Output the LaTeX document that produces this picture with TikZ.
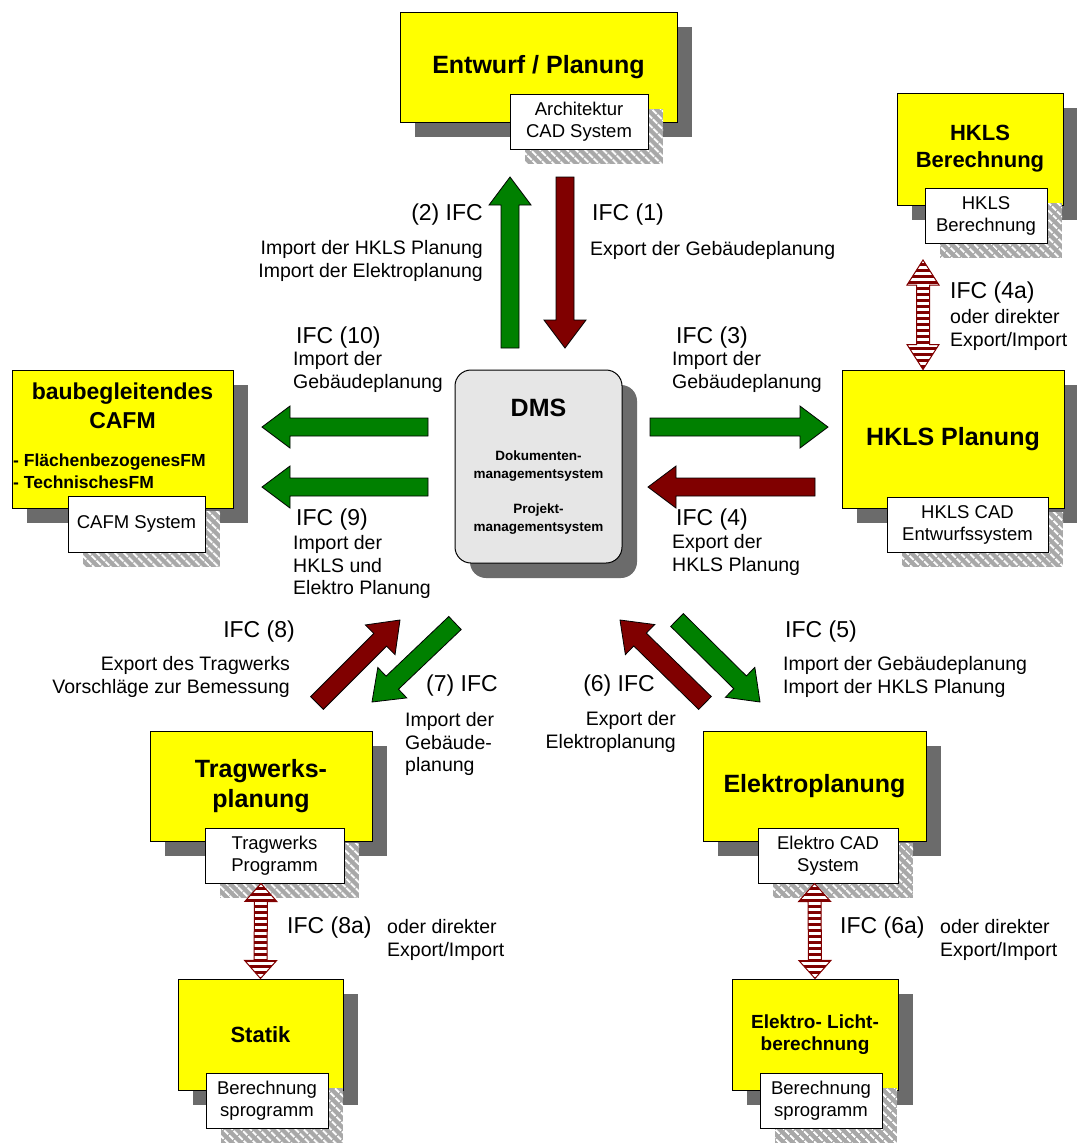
\documentclass[tikz,border=0pt]{standalone}
\usepackage{fontspec}
\setmainfont{Liberation Sans}
\usetikzlibrary{calc,shadows,patterns.meta}

\definecolor{boxyellow}{HTML}{FFFF00}
\definecolor{shadowgray}{HTML}{6B6B6B}
\definecolor{hatchgray}{HTML}{A8A8A8}
\definecolor{dmsgray}{HTML}{E6E6E6}
\definecolor{ifcgreen}{HTML}{008000}
\definecolor{ifcred}{HTML}{800000}

\tikzset{
   darkshadow/.style={drop shadow={shadow xshift=15pt,shadow yshift=-15pt,opacity=1,fill=shadowgray}},
   hatchshadow/.style={drop shadow={shadow xshift=15pt,shadow yshift=-15pt,opacity=1,fill=hatchgray},
      drop shadow={shadow xshift=15pt,shadow yshift=-15pt,opacity=1,
         pattern={Lines[angle=-45,distance=6.5pt,line width=2pt]},pattern color=white}},
   unitbox/.style={draw,line width=1pt,fill=boxyellow,darkshadow,align=center,inner sep=2pt,
      font=\bfseries\fontsize{25}{30}\selectfont},
   sysbox/.style={draw,line width=1pt,fill=white,hatchshadow,align=center,inner sep=2pt,
      font=\fontsize{18.5}{22}\selectfont},
   dmsbox/.style={draw,line width=1pt,fill=dmsgray,rounded corners=16pt,darkshadow},
   dmsnote/.style={inner sep=0pt,align=center,font=\bfseries\fontsize{13.5}{18}\selectfont},
   ifc/.style={inner sep=0pt,font=\fontsize{23}{26}\selectfont},
   note/.style={inner sep=0pt,font=\fontsize{19.5}{22.5}\selectfont},
   greenarrow/.style={draw=black,line width=0.8pt,fill=ifcgreen},
   redarrow/.style={draw=black,line width=0.8pt,fill=ifcred},
   stripearrow/.style={draw=ifcred,line width=1pt,preaction={fill=ifcred},
      pattern={Lines[angle=0,distance=6pt,line width=3pt]},pattern color=white}
}

% block arrow: style, tail, tip
\newcommand{\ifcarrow}[3]{%
   \coordinate (head) at ($(#3)!28pt!(#2)$);
   \draw[#1] ($(#2)!9pt!90:(#3)$) -- ($(head)!9pt!90:(#3)$) -- ($(head)!21pt!90:(#3)$) -- (#3)
      -- ($(head)!21pt!-90:(#3)$) -- ($(head)!9pt!-90:(#3)$) -- ($(#2)!9pt!-90:(#3)$) -- cycle;
}
% striped double arrow: head length, one end, other end
\newcommand{\ifcboth}[3]{%
   \coordinate (heada) at ($(#2)!#1!(#3)$);
   \coordinate (headb) at ($(#3)!#1!(#2)$);
   \draw[stripearrow] (#2) -- ($(heada)!16pt!90:(#3)$) -- ($(heada)!6.5pt!90:(#3)$)
      -- ($(headb)!6.5pt!-90:(#2)$) -- ($(headb)!16pt!-90:(#2)$) -- (#3)
      -- ($(headb)!16pt!90:(#2)$) -- ($(headb)!6.5pt!90:(#2)$)
      -- ($(heada)!6.5pt!-90:(#3)$) -- ($(heada)!16pt!-90:(#3)$) -- cycle;
}

\begin{document}
\begin{tikzpicture}[x=1pt,y=-1pt]
   \useasboundingbox (0,0) rectangle (1077,1144);

   % Bausteine
   \node[unitbox,minimum width=277,minimum height=110] (entwurf) at (538.5,67) {Entwurf / Planung};
   \node[sysbox,minimum width=138,minimum height=55] (entwurfsys) at (579,121.5) {Architektur\\CAD System};

   \node[unitbox,minimum width=166,minimum height=112,font=\bfseries\fontsize{22}{27}\selectfont] (hklsber) at (980,149) {HKLS\\Berechnung};
   \node[sysbox,minimum width=122,minimum height=55] (hklsbersys) at (986,215.5) {HKLS\\Berechnung};

   \node[unitbox,minimum width=222,minimum height=138] (hkls) at (953,439) {HKLS Planung};
   \node[sysbox,minimum width=161,minimum height=55] (hklssys) at (967.5,524.5) {HKLS CAD\\Entwurfssystem};

   \node[unitbox,minimum width=221,minimum height=138] (cafm) at (122.5,439) {};
   \node[inner sep=0pt,align=center,font=\bfseries\fontsize{23}{29}\selectfont] (cafmtitle) at (122.5,405.5) {baubegleitendes\\CAFM};
   \node[inner sep=0pt,anchor=west,align=left,font=\bfseries\fontsize{17.5}{22}\selectfont] (cafmlist) at (13,471) {- FlächenbezogenesFM\\- TechnischesFM};
   \node[sysbox,minimum width=137,minimum height=56] (cafmsys) at (136.5,524) {CAFM System};

   \node[dmsbox,minimum width=167,minimum height=193] (dms) at (538.5,466.5) {};
   \node[inner sep=0pt,font=\bfseries\fontsize{25}{30}\selectfont] (dmstitle) at (538.5,408) {DMS};
   \node[dmsnote] (dmsdok) at (538.5,466) {Dokumenten-\\managementsystem};
   \node[dmsnote] (dmsprj) at (538.5,519) {Projekt-\\managementsystem};

   \node[unitbox,minimum width=222,minimum height=110] (trag) at (261,786) {Tragwerks-\\planung};
   \node[sysbox,minimum width=139,minimum height=55] (tragsys) at (274.5,855.5) {Tragwerks\\Programm};

   \node[unitbox,minimum width=223,minimum height=110] (elektro) at (814.5,786) {Elektroplanung};
   \node[sysbox,minimum width=140,minimum height=55] (elektrosys) at (828,855.5) {Elektro CAD\\System};

   \node[unitbox,minimum width=165,minimum height=111,font=\bfseries\fontsize{22}{27}\selectfont] (statik) at (260.5,1034.5) {Statik};
   \node[sysbox,minimum width=122,minimum height=55] (statiksys) at (267,1100.5) {Berechnung\\sprogramm};

   \node[unitbox,minimum width=166,minimum height=111,font=\bfseries\fontsize{19}{22}\selectfont] (licht) at (815,1034.5) {Elektro- Licht-\\berechnung};
   \node[sysbox,minimum width=122,minimum height=55] (lichtsys) at (821,1100.5) {Berechnung\\sprogramm};

   % IFC Pfeile
   \coordinate (ifc2a) at (510,348);  \coordinate (ifc2b) at (510,177);
   \coordinate (ifc1a) at (565,177);  \coordinate (ifc1b) at (565,348);
   \coordinate (ifc3a) at (650,427);  \coordinate (ifc3b) at (828,427);
   \coordinate (ifc4a) at (815,487);  \coordinate (ifc4b) at (648,487);
   \coordinate (ifc10a) at (428,427); \coordinate (ifc10b) at (262,427);
   \coordinate (ifc9a) at (428,487);  \coordinate (ifc9b) at (262,487);
   \coordinate (ifc8a) at (317,703);  \coordinate (ifc8b) at (400,620);
   \coordinate (ifc7a) at (455,623);  \coordinate (ifc7b) at (372,702);
   \coordinate (ifc6a) at (705,703);  \coordinate (ifc6b) at (620,620);
   \coordinate (ifc5a) at (677,620);  \coordinate (ifc5b) at (760,702);

   \ifcarrow{greenarrow}{ifc2a}{ifc2b}
   \ifcarrow{redarrow}{ifc1a}{ifc1b}
   \ifcarrow{greenarrow}{ifc3a}{ifc3b}
   \ifcarrow{redarrow}{ifc4a}{ifc4b}
   \ifcarrow{greenarrow}{ifc10a}{ifc10b}
   \ifcarrow{greenarrow}{ifc9a}{ifc9b}
   \ifcarrow{redarrow}{ifc8a}{ifc8b}
   \ifcarrow{greenarrow}{ifc7a}{ifc7b}
   \ifcarrow{redarrow}{ifc6a}{ifc6b}
   \ifcarrow{greenarrow}{ifc5a}{ifc5b}

   % direkter Austausch
   \coordinate (hklsber in) at (923,260);
   \ifcboth{25pt}{hklsber in}{hkls.north -| hklsber in}
   \ifcboth{18pt}{tragsys.south -| trag}{statik.north}
   \ifcboth{18pt}{elektrosys.south -| elektro}{licht.north}

   % Beschriftung
   \node[ifc,anchor=east] (l2) at (483,215) {(2) IFC};
   \node[note,anchor=east,align=right] (l2d) at (483,261) {Import der HKLS Planung\\Import der Elektroplanung};
   \node[ifc,anchor=west] (l1) at (592,215) {IFC (1)};
   \node[note,anchor=west] (l1d) at (590,250) {Export der Gebäudeplanung};

   \node[ifc,anchor=west] (l10) at (296,338) {IFC (10)};
   \node[note,anchor=west,align=left] (l10d) at (293,372) {Import der\\Gebäudeplanung};
   \node[ifc,anchor=west] (l3) at (676,338) {IFC (3)};
   \node[note,anchor=west,align=left] (l3d) at (672,372) {Import der\\Gebäudeplanung};

   \node[ifc,anchor=west] (l9) at (296,520) {IFC (9)};
   \node[note,anchor=west,align=left] (l9d) at (293,567) {Import der\\HKLS und\\Elektro Planung};
   \node[ifc,anchor=west] (l4) at (676,520) {IFC (4)};
   \node[note,anchor=west,align=left] (l4d) at (672,555) {Export der\\HKLS Planung};

   \node[ifc,anchor=east] (l8) at (295,632) {IFC (8)};
   \node[note,anchor=east,align=right] (l8d) at (290,677) {Export des Tragwerks\\Vorschläge zur Bemessung};
   \node[ifc,anchor=west] (l7) at (426,686) {(7) IFC};
   \node[note,anchor=west,align=left] (l7d) at (405,744) {Import der\\Gebäude-\\planung};
   \node[ifc,anchor=east] (l6) at (655,686) {(6) IFC};
   \node[note,anchor=east,align=right] (l6d) at (676,732) {Export der\\Elektroplanung};
   \node[ifc,anchor=west] (l5) at (785,632) {IFC (5)};
   \node[note,anchor=west,align=left] (l5d) at (783,677) {Import der Gebäudeplanung\\Import der HKLS Planung};

   \node[ifc,anchor=west] (l4a) at (950,293) {IFC (4a)};
   \node[note,anchor=west,align=left] (l4ad) at (950,330) {oder direkter\\Export/Import};
   \node[ifc,anchor=west] (l8a) at (287,928) {IFC (8a)};
   \node[note,anchor=west,align=left] (l8ad) at (387,940) {oder direkter\\Export/Import};
   \node[ifc,anchor=west] (l6a) at (840,928) {IFC (6a)};
   \node[note,anchor=west,align=left] (l6ad) at (940,940) {oder direkter\\Export/Import};
\end{tikzpicture}
\end{document}
